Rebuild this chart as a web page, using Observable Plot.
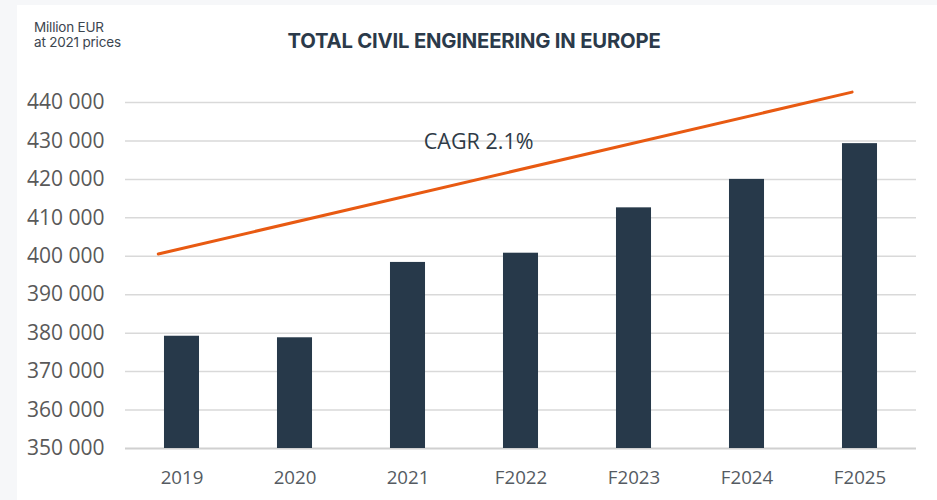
<!DOCTYPE html>
<html>
<head>
<meta charset="utf-8">
<script src="https://cdn.jsdelivr.net/npm/d3@7"></script>
<script src="https://cdn.jsdelivr.net/npm/@observablehq/plot@0.6"></script>
<style>
  html, body { margin: 0; padding: 0; background: #f6f7f9; width: 937px; height: 500px; overflow: hidden; }
  #panel { position: absolute; left: 17px; top: 5px; width: 920px; height: 495px; background: #ffffff; }
  #unit { position: absolute; left: 34px; top: 20px; font-family: Inter, "Noto Sans", sans-serif; font-size: 13.5px; line-height: 15px; color: #3c4650; letter-spacing: -0.2px; }
  #title { position: absolute; left: 224px; width: 500px; top: 28px; text-align: center; font-family: Inter, "Noto Sans", sans-serif; font-weight: 700; font-size: 20.3px; color: #2b3a4a; letter-spacing: -0.2px; }
  #chart { position: absolute; left: 0; top: 75px; }
</style>
</head>
<body>
<div id="panel"></div>
<div id="unit">Million EUR<br>at 2021 prices</div>
<div id="title">TOTAL CIVIL ENGINEERING IN EUROPE</div>
<div id="chart"></div>
<script>
const categories = ["2019", "2020", "2021", "F2022", "F2023", "F2024", "F2025"];
const values = [379200, 378800, 398400, 400800, 412600, 420000, 429300];
const yTicks = [350000, 360000, 370000, 380000, 390000, 400000, 410000, 420000, 430000, 440000];
// CAGR trend line endpoints (x in category-index units, y in Million EUR)
const trendX = [-0.21, 5.93];
const trendY = [400600, 442700];
const cagrLabel = "CAGR 2.1%";

const bars = categories.map((c, i) => ({i, c, v: values[i]}));
const trend = trendX.map((x, k) => ({x, y: trendY[k]}));
const halfBar = 0.155;
const fmt = d => d3.format(",")(d).replace(/,/g, " ");

const plot = Plot.plot({
  width: 937,
  height: 425,
  marginLeft: 125,
  marginRight: 21,
  marginTop: 27,
  marginBottom: 52,
  style: {background: "transparent", overflow: "visible"},
  x: {type: "linear", domain: [-0.5, 6.5]},
  y: {domain: [350000, 440000]},
  marks: [
    Plot.ruleY(yTicks.slice(1), {stroke: "#d9d9d9", strokeWidth: 1.5}),
    Plot.ruleY([350000], {stroke: "#d0d0d0", strokeWidth: 2}),
    Plot.rectY(bars, {x1: d => d.i - halfBar, x2: d => d.i + halfBar, y1: () => 350000, y2: "v", fill: "#27394a"}),
    Plot.line(trend, {x: "x", y: "y", stroke: "#e85a12", strokeWidth: 3}),
    Plot.text([cagrLabel], {x: 2.14, y: 429600, text: d => d, textAnchor: "start", fontSize: 21.5, fill: "#2e3a46", fontFamily: "Open Sans, sans-serif"}),
    Plot.axisY({ticks: yTicks, tickFormat: fmt, tickSize: 0, tickPadding: 21, fontSize: 21, fill: "#595959", fontFamily: "Open Sans, sans-serif", label: null}),
    Plot.axisX({ticks: d3.range(categories.length), tickFormat: i => categories[i], tickSize: 0, tickPadding: 22, fontSize: 18.7, fill: "#555b62", fontFamily: "Open Sans, sans-serif", label: null})
  ]
});
document.getElementById("chart").appendChild(plot);
</script>
</body>
</html>
